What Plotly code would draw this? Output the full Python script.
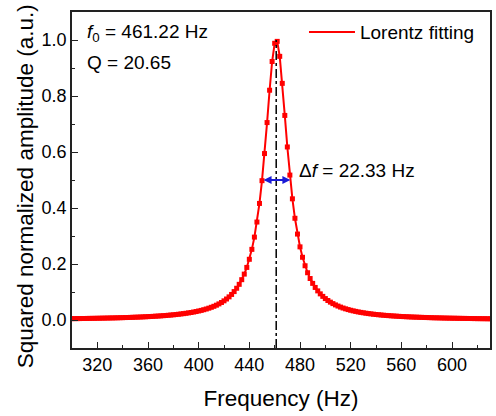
import plotly.graph_objects as go

# Frequency (Hz) and squared normalized amplitude
freq = [300, 302, 304, 306, 308, 310, 312, 314, 316, 318, 320, 322, 324, 326, 328,
        330, 332, 334, 336, 338, 340, 342, 344, 346, 348, 350, 352, 354, 356, 358,
        360, 362, 364, 366, 368, 370, 372, 374, 376, 378, 380, 382, 384, 386, 388,
        390, 392, 394, 396, 398, 400, 402, 404, 406, 408, 410, 412, 414, 416, 418,
        420, 422, 424, 426, 428, 430, 432, 434, 436, 438, 440, 442, 444, 446, 448,
        450, 452, 454, 456, 458, 460, 462, 464, 466, 468, 470, 472, 474, 476, 478,
        480, 482, 484, 486, 488, 490, 492, 494, 496, 498, 500, 502, 504, 506, 508,
        510, 512, 514, 516, 518, 520, 522, 524, 526, 528, 530, 532, 534, 536, 538,
        540, 542, 544, 546, 548, 550, 552, 554, 556, 558, 560, 562, 564, 566, 568,
        570, 572, 574, 576, 578, 580, 582, 584, 586, 588, 590, 592, 594, 596, 598,
        600, 602, 604, 606, 608, 610, 612, 614, 616, 618, 620, 622, 624, 626, 628,
        630]
amp = [0.0048, 0.0049, 0.0050, 0.0051, 0.0053, 0.0054, 0.0056, 0.0057, 0.0059, 0.0060,
       0.0062, 0.0064, 0.0066, 0.0068, 0.0070, 0.0072, 0.0074, 0.0076, 0.0079, 0.0081,
       0.0084, 0.0087, 0.0090, 0.0093, 0.0096, 0.0100, 0.0103, 0.0107, 0.0111, 0.0116,
       0.0120, 0.0125, 0.0130, 0.0136, 0.0141, 0.0148, 0.0154, 0.0161, 0.0169, 0.0177,
       0.0185, 0.0195, 0.0205, 0.0216, 0.0227, 0.0240, 0.0254, 0.0268, 0.0285, 0.0302,
       0.0322, 0.0343, 0.0367, 0.0393, 0.0422, 0.0454, 0.0489, 0.0529, 0.0575, 0.0626,
       0.0684, 0.0750, 0.0826, 0.0913, 0.1015, 0.1134, 0.1274, 0.1440, 0.1639, 0.1878,
       0.2168, 0.2523, 0.2960, 0.3499, 0.4163, 0.4976, 0.5945, 0.7051, 0.8206, 0.9232,
       0.9882, 0.9951, 0.9416, 0.8451, 0.7306, 0.6180, 0.5176, 0.4328, 0.3633, 0.3069,
       0.2612, 0.2240, 0.1937, 0.1688, 0.1481, 0.1308, 0.1163, 0.1040, 0.0934, 0.0844,
       0.0765, 0.0697, 0.0638, 0.0585, 0.0539, 0.0498, 0.0461, 0.0428, 0.0399, 0.0372,
       0.0348, 0.0326, 0.0307, 0.0288, 0.0272, 0.0257, 0.0243, 0.0230, 0.0218, 0.0207,
       0.0197, 0.0187, 0.0179, 0.0170, 0.0163, 0.0156, 0.0149, 0.0143, 0.0137, 0.0131,
       0.0126, 0.0121, 0.0117, 0.0112, 0.0108, 0.0104, 0.0101, 0.0097, 0.0094, 0.0091,
       0.0088, 0.0085, 0.0082, 0.0079, 0.0077, 0.0075, 0.0072, 0.0070, 0.0068, 0.0066,
       0.0064, 0.0063, 0.0061, 0.0059, 0.0058, 0.0056, 0.0055, 0.0053, 0.0052, 0.0050,
       0.0049, 0.0048, 0.0047, 0.0046, 0.0045, 0.0044]

f0 = 461.22
delta_f = 22.33
Q = 20.65
half_level = 0.5
peak_level = 1.0

FONT = "Arial, 'Liberation Sans', sans-serif"
RED = "#ff0000"

fig = go.Figure()
fig.add_trace(go.Scatter(x=freq, y=amp, mode="lines", name="Lorentz fitting",
                         line=dict(color=RED, width=2)))
fig.add_trace(go.Scatter(x=freq, y=amp, mode="markers", showlegend=False,
                         marker=dict(color=RED, size=5, symbol="square")))

# vertical dash-dot line at f0
fig.add_shape(type="line", xref="x", yref="y", x0=f0, x1=f0, y0=-0.1, y1=peak_level,
              line=dict(color="black", width=1.5, dash="dashdot"))

# FWHM double arrow
fig.add_annotation(x=f0 + delta_f / 2, y=half_level, ax=f0 - delta_f / 2, ay=half_level,
                   xref="x", yref="y", axref="x", ayref="y", text="",
                   showarrow=True, arrowhead=2, arrowside="end+start",
                   arrowsize=0.8, arrowwidth=2, arrowcolor="#1a1ad6")
fig.add_annotation(x=477.5, y=0.535, xref="x", yref="y", xanchor="left", yanchor="middle",
                   text="Δ<i>f</i> = %.2f Hz" % delta_f, showarrow=False,
                   font=dict(size=19, color="black", family=FONT))

fig.add_annotation(x=0.032, y=0.937, xref="paper", yref="paper", xanchor="left",
                   yanchor="middle", text="<i>f</i><sub>0</sub> = %.2f Hz" % f0,
                   showarrow=False, font=dict(size=19, color="black", family=FONT))
fig.add_annotation(x=0.032, y=0.850, xref="paper", yref="paper", xanchor="left",
                   yanchor="middle", text="Q = %.2f" % Q,
                   showarrow=False, font=dict(size=19, color="black", family=FONT))

# y-axis title placed as rotated text
fig.add_annotation(x=-0.112, y=0.482, xref="paper", yref="paper", xanchor="center",
                   yanchor="middle", textangle=-90, showarrow=False,
                   text="Squared normalized amplitude (a.u.)",
                   font=dict(size=22.5, color="black", family=FONT))

axis_common = dict(showline=True, mirror=True, linecolor="#222", linewidth=1.5,
                   showgrid=False, zeroline=False, ticks="inside", tickcolor="#222",
                   tickwidth=1.2, ticklen=6, automargin=False,
                   tickfont=dict(size=18, color="black", family=FONT))

fig.update_xaxes(range=[300, 630], tick0=0, dtick=40, ticklabelstandoff=0,
                 title=dict(text="Frequency (Hz)", font=dict(size=22.5, color="black", family=FONT),
                            standoff=16),
                 minor=dict(ticks="inside", ticklen=3, dtick=20, tick0=0, tickcolor="#222"),
                 **axis_common)
fig.update_yaxes(range=[-0.1, 1.1], tick0=0, dtick=0.2, tickformat=".1f",
                 minor=dict(ticks="inside", ticklen=3, dtick=0.1, tick0=0, tickcolor="#222"),
                 **axis_common)

fig.update_layout(
    width=496, height=416,
    margin=dict(l=72, r=6, t=12, b=68),
    paper_bgcolor="white", plot_bgcolor="white",
    font=dict(family=FONT, color="black"),
    legend=dict(x=0.555, y=0.94, xanchor="left", yanchor="middle",
                bgcolor="rgba(0,0,0,0)", font=dict(size=19, color="black", family=FONT),
                itemwidth=46),
)

fig.write_html("out.html", config={"displayModeBar": False},
               post_script="document.body.style.margin='0px';")
